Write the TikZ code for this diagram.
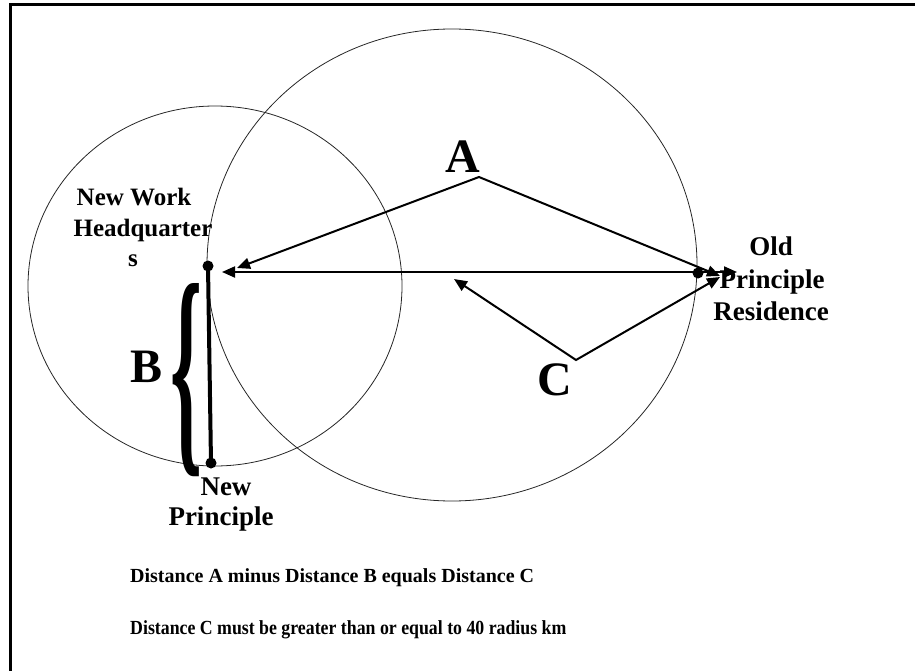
\documentclass[tikz,border=0pt]{standalone}
\usepackage{fontspec}
\setmainfont{Liberation Serif}
\usepackage{graphicx}
\usetikzlibrary{arrows.meta}
\begin{document}
\begin{tikzpicture}[x=1pt,y=-1pt,
  lbl/.style={font=\fontsize{25}{30}\selectfont\bfseries, inner sep=0pt, anchor=base},
  lblb/.style={font=\fontsize{27}{30}\selectfont\bfseries, inner sep=0pt, anchor=base},
  big/.style={font=\fontsize{48}{50}\selectfont\bfseries, inner sep=0pt},
  note/.style={font=\fontsize{20}{22}\selectfont\bfseries, inner sep=0pt, anchor=base west},
  ring/.style={draw=black!85, line width=0.8pt},
  conn/.style={line width=2pt, arrows={Triangle[length=13pt,width=11pt]-Triangle[length=13pt,width=11pt]}},
  dot/.style={circle, fill=black, inner sep=0pt, minimum size=11pt}]
\useasboundingbox (0,0) rectangle (915,671);
\draw[line width=3pt] (10,671) -- (10,5) -- (915,5);
% circles
\draw[ring] (215,286) ellipse [x radius=187pt, y radius=180pt];
\draw[ring] (452,265) ellipse [x radius=245pt, y radius=236pt];
% dots and vertical bar
\node[dot] (hq) at (208,266) {};
\node[dot] (np) at (211,463) {};
\node[dot] (or) at (698,273) {};
\draw[line width=4pt] (hq.center) -- (np.center);
% brace and letters
\node[inner sep=0pt] (brace) at (187,380) {\resizebox{32pt}{162pt}{\bfseries\{}};
\node[big] (B) at (147,367) {B};
\node[big] (A) at (463,157) {A};
\node[big] (C) at (555,380) {C};
% connector coordinates
\coordinate (Aapex) at (479,177);
\coordinate (Aleft) at (237,268);
\coordinate (Aright) at (720,276);
\coordinate (Hl) at (222,272);
\coordinate (Hr) at (737,272);
\coordinate (Capex) at (576,360);
\coordinate (Cleft) at (454,279);
\coordinate (Cright) at (720,277);
\draw[conn] (Aleft) -- (Aapex) -- (Aright);
\draw[conn] (Hl) -- (Hr);
\draw[conn] (Cleft) -- (Capex) -- (Cright);
% labels
\node[lbl] (nw1) at (134,205) {New Work};
\node[lbl] (nw2) at (143,236) {Headquarter};
\node[lbl] (nw3) at (133,266) {s};
\node[lblb] (or1) at (771,255) {Old};
\node[lblb] (or2) at (772,288) {Principle};
\node[lblb] (or3) at (771,320) {Residence};
\node[lblb] (np1) at (226,495) {New};
\node[lblb] (np2) at (221,525) {Principle};
\node[note] (n1) at (130,582) {Distance A minus Distance B equals Distance C};
\node[note] (n2) at (130,634) {\scalebox{0.89}[1]{Distance C must be greater than or equal to 40 radius km}};
\end{tikzpicture}
\end{document}
